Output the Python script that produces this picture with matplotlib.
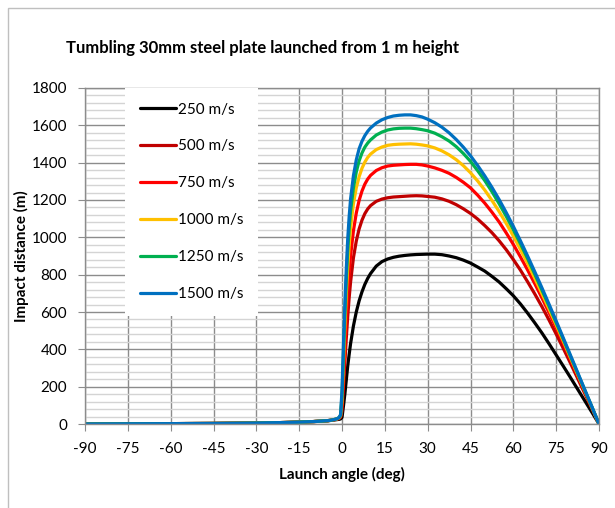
import numpy as np
import matplotlib.pyplot as plt
from matplotlib.ticker import MultipleLocator
from matplotlib.patches import Rectangle

plt.rcParams['font.family'] = ['Lato', 'DejaVu Sans']
plt.rcParams['axes.unicode_minus'] = False

# Launch angle (deg)
angles = [-90, -75, -60, -45, -30, -20, -15, -10, -7, -5, -4, -3, -2, -1.5, -1, -0.5, 0,
          0.5, 1, 1.5, 2, 2.5, 3, 4, 5, 6, 7, 8, 9, 10, 12, 14, 16, 18, 20,
          22, 24, 26, 28, 30, 32.5, 35, 37.5, 40, 42.5, 45, 47.5, 50, 52.5,
          55, 57.5, 60, 62.5, 65, 67.5, 70, 72.5, 75, 77.5, 80, 82.5, 85, 87.5, 90]

# Impact distance (m) for each launch speed
d250 = [0, 1, 2, 3, 5, 8, 10, 13, 15, 17, 19, 21, 23, 24, 25, 27, 35,
        95, 160, 235, 310, 372, 430, 525, 600, 660, 708, 748, 780, 806, 846, 870, 884, 893, 899,
        903, 906, 908, 909, 910, 910, 907, 900, 891, 878, 862, 841, 819, 791,
        761, 725, 687, 643, 594, 542, 488, 430, 370, 310, 249, 187, 125, 63, 0]
d500 = [0, 1, 2, 3, 5, 8, 10, 13, 16, 18, 20, 22, 25, 27, 30, 36, 70,
        200, 330, 460, 575, 675, 760, 890, 980, 1045, 1092, 1127, 1152, 1170, 1193, 1205, 1212, 1216, 1218,
        1220, 1222, 1223, 1222, 1219, 1215, 1206, 1193, 1175, 1153, 1128, 1098, 1063, 1025,
        982, 934, 881, 824, 762, 697, 629, 557, 482, 405, 326, 245, 164, 83, 0]
d750 = [0, 1, 2, 3, 5, 8, 10, 13, 16, 18, 20, 23, 26, 28, 32, 40, 100,
        250, 400, 560, 700, 810, 900, 1035, 1130, 1198, 1248, 1285, 1312, 1332, 1358, 1373, 1382, 1386, 1388,
        1390, 1391, 1391, 1388, 1382, 1372, 1359, 1343, 1321, 1295, 1265, 1226, 1183, 1135,
        1083, 1024, 962, 895, 825, 752, 676, 597, 516, 432, 347, 261, 175, 88, 0]
d1000 = [0, 1, 2, 3, 5, 8, 10, 13, 16, 18, 20, 23, 26, 29, 34, 44, 125,
         320, 520, 695, 840, 955, 1050, 1180, 1265, 1325, 1370, 1403, 1428, 1446, 1470, 1484, 1493, 1497, 1499,
         1500, 1501, 1499, 1495, 1490, 1479, 1463, 1442, 1416, 1384, 1346, 1302, 1253, 1198,
         1139, 1075, 1007, 935, 860, 781, 699, 616, 531, 444, 356, 267, 179, 90, 0]
d1250 = [0, 1, 2, 3, 5, 8, 10, 13, 16, 18, 20, 23, 27, 30, 35, 47, 150,
         370, 585, 770, 925, 1045, 1140, 1265, 1350, 1410, 1452, 1483, 1505, 1522, 1548, 1564, 1575, 1581, 1584,
         1585, 1585, 1582, 1577, 1571, 1558, 1539, 1516, 1486, 1449, 1407, 1357, 1304, 1245,
         1181, 1113, 1041, 965, 886, 803, 718, 632, 543, 454, 363, 273, 182, 92, 0]
d1500 = [0, 1, 2, 3, 5, 8, 10, 13, 16, 18, 20, 23, 27, 30, 36, 50, 180,
         420, 640, 830, 990, 1110, 1205, 1330, 1415, 1475, 1515, 1545, 1568, 1586, 1612, 1630, 1642, 1650, 1654,
         1656, 1656, 1652, 1645, 1633, 1614, 1590, 1560, 1524, 1483, 1437, 1385, 1329, 1268,
         1203, 1133, 1059, 981, 900, 816, 730, 642, 552, 461, 369, 277, 185, 93, 0]

series = [d250, d500, d750, d1000, d1250, d1500]
labels = ['250 m/s', '500 m/s', '750 m/s', '1000 m/s', '1250 m/s', '1500 m/s']
colors = ['#000000', '#C00000', '#FF0000', '#FFC000', '#00B050', '#0070C0']

W, H = 615, 508
fig = plt.figure(figsize=(W / 100, H / 100), dpi=100)

# outer chart frame
fig.patches.append(Rectangle((8 / W, -0.1), 1.2, 1 - 8 / H + 0.1,
                             transform=fig.transFigure, fill=False,
                             edgecolor='#bfbfbf', lw=1.0))

ax = fig.add_axes([85 / W, 84 / H, 514 / W, 336 / H])

for vals, lab, col in zip(series, labels, colors):
    ax.plot(angles, vals, color=col, lw=2.3, label=lab,
            solid_joinstyle='round', solid_capstyle='round')

ax.set_xlim(-90, 90)
ax.set_ylim(0, 1800)
ax.xaxis.set_major_locator(MultipleLocator(15))
ax.yaxis.set_major_locator(MultipleLocator(200))
ax.yaxis.set_minor_locator(MultipleLocator(40))

ax.grid(which='minor', axis='y', color='#d4d4d4', lw=1.0)
ax.grid(which='major', axis='both', color='#8c8c8c', lw=1.0)
ax.set_axisbelow(True)

for s in ax.spines.values():
    s.set_color('#8c8c8c')
    s.set_linewidth(1.0)

ax.tick_params(which='major', length=5, color='#8c8c8c', labelsize=11)
ax.tick_params(which='minor', length=0)
ax.tick_params(axis='x', pad=8)
ax.tick_params(axis='y', pad=8)

ax.set_xlabel('Launch angle (deg)', fontsize=11, fontweight='bold')
ax.set_ylabel('Impact distance (m)', fontsize=11, fontweight='bold')
ax.xaxis.set_label_coords(0.5, -0.128)
ax.yaxis.set_label_coords(-0.108, 0.5)

fig.text(0.5 * (70 + 456) / W, 1 - 48 / H,
         'Tumbling 30mm steel plate launched from 1 m height',
         ha='center', va='center', fontsize=12, fontweight='bold')

leg = ax.legend(loc='upper left', bbox_to_anchor=(40 / 514, 1.0),
                borderaxespad=0, frameon=True, fancybox=False,
                edgecolor='none', facecolor='white', framealpha=1,
                fontsize=11, labelspacing=1.5, handlelength=2.4,
                handletextpad=0.15, borderpad=0.95)
for line in leg.get_lines():
    line.set_linewidth(2.3)

fig.savefig('out.png', dpi=100)
plt.close(fig)
